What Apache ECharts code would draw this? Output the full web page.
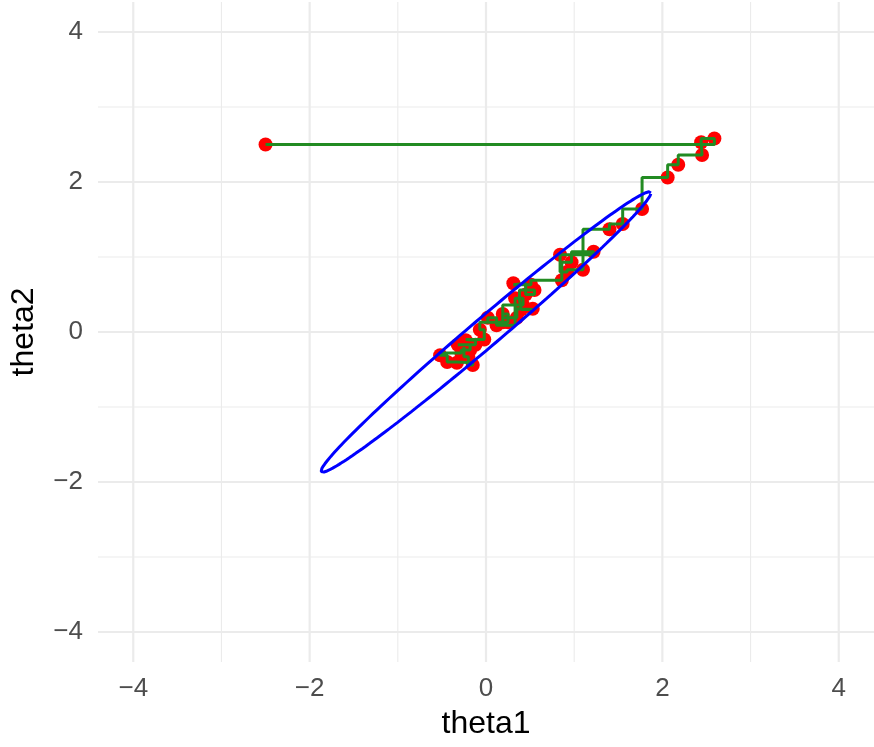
<!DOCTYPE html>
<html><head><meta charset="utf-8">
<script src="https://cdn.jsdelivr.net/npm/echarts@6/dist/echarts.min.js"></script>
<style>html,body{margin:0;padding:0;background:#fff}#c{width:874px;height:747px}</style>
</head><body><div id="c"></div>
<script>
// Gibbs sampler draws (start point first)
const theta1 = [-2.50, 2.59, 2.44, 2.45, 2.18, 2.06, 1.77, 1.55, 1.40, 1.10, 0.92, 0.84, 1.22, 0.97, 0.86,
  0.51, 0.31, 0.45, 0.55, 0.38, 0.40, 0.53, 0.35, 0.19, 0.25, 0.02, 0.12, 0.33, 0.42, 0.19,
  -0.07, -0.02, -0.23, -0.12, -0.32, -0.18, -0.28, -0.52, -0.44, -0.33, -0.15, -0.20, -0.25];
const theta2 = [2.50, 2.58, 2.53, 2.36, 2.23, 2.06, 1.64, 1.44, 1.37, 0.83, 0.80, 1.03, 1.07, 0.93, 0.69,
  0.63, 0.65, 0.50, 0.56, 0.43, 0.30, 0.31, 0.19, 0.24, 0.13, 0.19, 0.09, 0.45, 0.36, 0.13,
  0.03, -0.10, -0.11, -0.17, -0.17, -0.24, -0.28, -0.31, -0.40, -0.41, -0.44, -0.33, -0.20];

const majorTicks = [-4, -2, 0, 2, 4];
const minorTicks = [-3, -1, 1, 3];
const axisMin = -4.4, axisMax = 4.4;

// 95% contour ellipse parameters
const ellipseCenter = [0, 0];
const ellipseRadius = 1.87;
const ellipseRho = 0.991;

const points = theta1.map((x, i) => [x, theta2[i]]);
const path = [points[0]];
for (let i = 1; i < points.length; i++) {
  path.push([theta1[i], theta2[i - 1]]);
  path.push([theta1[i], theta2[i]]);
}
const ellipse = [];
const nE = 200;
const s = Math.sqrt(1 - ellipseRho * ellipseRho);
for (let k = 0; k <= nE; k++) {
  const t = 2 * Math.PI * k / nE;
  ellipse.push([ellipseCenter[0] + ellipseRadius * Math.cos(t),
                ellipseCenter[1] + ellipseRadius * (ellipseRho * Math.cos(t) + s * Math.sin(t))]);
}
const gridData = [];
majorTicks.forEach(v => { gridData.push([v, 0, 1]); gridData.push([v, 1, 1]); });
minorTicks.forEach(v => { gridData.push([v, 0, 0]); gridData.push([v, 1, 0]); });

const fmt = v => v < 0 ? '\u2212' + Math.abs(v) : String(v);
const FONT = 'Liberation Sans, Arial, Helvetica, sans-serif';

const chart = echarts.init(document.getElementById('c'), null, {renderer: 'canvas'});
chart.setOption({
  backgroundColor: '#ffffff',
  animation: false,
  grid: {left: 96, right: 0, top: 2, bottom: 85, containLabel: false},
  xAxis: {
    type: 'value', min: axisMin, max: axisMax,
    name: 'theta1', nameLocation: 'middle', nameGap: 46,
    nameTextStyle: {color: '#000', fontSize: 32, fontFamily: FONT},
    axisLine: {show: false}, axisTick: {show: false}, splitLine: {show: false},
    axisLabel: {customValues: majorTicks, formatter: fmt, color: '#4d4d4d', fontSize: 26, fontFamily: FONT, margin: 14}
  },
  yAxis: {
    type: 'value', min: axisMin, max: axisMax,
    name: 'theta2', nameLocation: 'middle', nameGap: 58, nameRotate: 90,
    nameTextStyle: {color: '#000', fontSize: 32, fontFamily: FONT},
    axisLine: {show: false}, axisTick: {show: false}, splitLine: {show: false},
    axisLabel: {customValues: majorTicks, formatter: fmt, color: '#4d4d4d', fontSize: 26, fontFamily: FONT, margin: 15}
  },
  series: [
    {
      type: 'custom', coordinateSystem: 'cartesian2d', silent: true, z: 0,
      data: gridData,
      encode: {x: 0},
      renderItem: function (params, api) {
        const v = api.value(0), orient = api.value(1), major = api.value(2);
        const cs = params.coordSys;
        let shape;
        if (orient === 0) {
          const px = api.coord([v, 0])[0];
          shape = {x1: px, y1: cs.y, x2: px, y2: cs.y + cs.height};
        } else {
          const py = api.coord([0, v])[1];
          shape = {x1: cs.x, y1: py, x2: cs.x + cs.width, y2: py};
        }
        return {type: 'line', shape: shape, style: {stroke: '#ebebeb', lineWidth: major ? 2.2 : 1.1}};
      }
    },
    {
      type: 'scatter', data: points, symbol: 'circle', symbolSize: 14, z: 2,
      itemStyle: {color: '#ff0000', opacity: 1}, silent: true
    },
    {
      type: 'line', data: path, showSymbol: false, symbol: 'none', z: 3,
      lineStyle: {color: '#228b22', width: 3}, silent: true
    },
    {
      type: 'line', data: ellipse, showSymbol: false, symbol: 'none', smooth: false, z: 4,
      lineStyle: {color: '#0000ff', width: 3}, silent: true
    }
  ]
});
</script>
</body></html>
